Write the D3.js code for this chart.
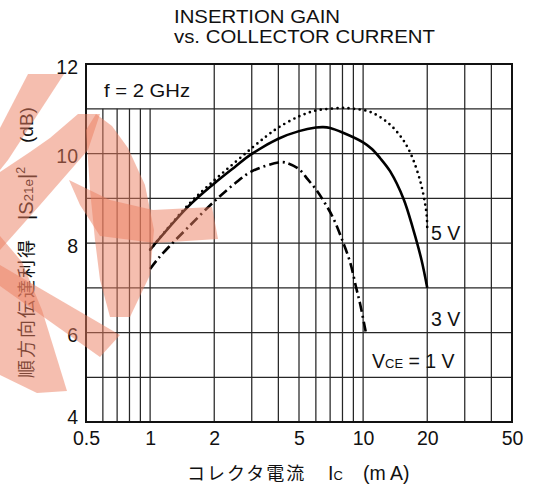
<!DOCTYPE html>
<html>
<head>
<meta charset="utf-8">
<script src="https://cdn.jsdelivr.net/npm/d3@7"></script>
<style>
  body { margin: 0; background: #fff; }
  svg text { font-family: "Liberation Sans", Arial, sans-serif; fill: #111; }
  .jp { font-family: "Noto Sans CJK JP", sans-serif; }
</style>
</head>
<body>
<div id="chart"></div>
<script>
// collector current (mA) and gain (dB)
var ic5V = [1.0, 1.5, 2, 2.5, 3, 3.5, 4, 5, 6, 7, 8, 9, 10.8, 12.9, 14.9, 16.6, 18.5, 19.5, 19.9, 20];
var gain5V = [7.85, 8.84, 9.4, 9.8, 10.12, 10.38, 10.58, 10.83, 10.96, 11.0, 11.02, 11.0, 10.93, 10.71, 10.4, 10.03, 9.4, 8.9, 8.6, 8.3];

var ic3V = [1.0, 1.5, 2, 2.5, 3, 4, 5, 6, 6.5, 7, 8, 10, 11, 12, 13.4, 15.5, 17.2, 18.8, 20];
var gain3V = [7.85, 8.8, 9.33, 9.7, 9.99, 10.33, 10.5, 10.58, 10.59, 10.57, 10.47, 10.25, 10.1, 9.9, 9.6, 8.98, 8.3, 7.62, 7.0];

var ic1V = [1.0, 1.09, 1.24, 1.5, 2, 2.5, 3, 4, 4.3, 5, 5.5, 6, 6.6, 7.25, 8.0, 8.7, 9.3, 9.7, 10.3];
var gain1V = [7.42, 7.65, 7.94, 8.34, 8.93, 9.33, 9.6, 9.8, 9.8, 9.65, 9.42, 9.2, 8.9, 8.55, 8.05, 7.56, 6.98, 6.62, 6.0];

var xTicks = [0.5, 1, 2, 5, 10, 20, 50];
var xGrid = [0.6, 0.7, 0.8, 0.9, 1, 2, 3, 4, 5, 6, 7, 8, 9, 10, 20, 30, 40];
var yTicks = [4, 6, 8, 10, 12];
var yGrid = [5, 6, 7, 8, 9, 10, 11];

var width = 541, height = 495;
var margin = { top: 64, right: 29, bottom: 73, left: 86 };

var x = d3.scaleLog().domain([0.5, 50]).range([margin.left, width - margin.right]);
var y = d3.scaleLinear().domain([4, 12]).range([height - margin.bottom, margin.top]);

var svg = d3.select("#chart").append("svg")
    .attr("width", width)
    .attr("height", height);

svg.append("rect").attr("width", width).attr("height", height).attr("fill", "#fff");

// grid (the box for the frequency note has no lines left of 2 mA)
var grid = svg.append("g").attr("stroke", "#262626").attr("stroke-width", 1.25);
grid.selectAll("line.v")
    .data(xGrid)
    .enter().append("line")
    .attr("class", "v")
    .attr("x1", function(d) { return x(d); })
    .attr("x2", function(d) { return x(d); })
    .attr("y1", function(d) { return d < 2 ? y(11) : y(12); })
    .attr("y2", y(4));
grid.selectAll("line.h")
    .data(yGrid)
    .enter().append("line")
    .attr("class", "h")
    .attr("x1", x(0.5))
    .attr("x2", x(50))
    .attr("y1", function(d) { return y(d); })
    .attr("y2", function(d) { return y(d); });

svg.append("rect")
    .attr("x", x(0.5))
    .attr("y", y(12))
    .attr("width", x(50) - x(0.5))
    .attr("height", y(4) - y(12))
    .attr("fill", "none")
    .attr("stroke", "#111")
    .attr("stroke-width", 2);

// axes (labels only)
var xAxis = d3.axisBottom(x).tickValues(xTicks).tickSize(0).tickPadding(9.5)
    .tickFormat(function(d) { return String(d); });
var yAxis = d3.axisLeft(y).tickValues(yTicks).tickSize(0).tickPadding(8)
    .tickFormat(d3.format("d"));

var gx = svg.append("g").attr("transform", "translate(0," + y(4) + ")").call(xAxis);
var gy = svg.append("g").attr("transform", "translate(" + x(0.5) + ",0)").call(yAxis);
gx.select(".domain").remove();
gy.select(".domain").remove();
gx.selectAll("text").attr("font-size", 19.5).attr("font-family", "Liberation Sans, Arial, sans-serif").attr("fill", "#111");
gy.selectAll("text").attr("font-size", 19.5).attr("font-family", "Liberation Sans, Arial, sans-serif").attr("fill", "#111")
    .attr("dy", function(d) { return d === 4 ? "0.08em" : "0.48em"; });

// curves
var line = d3.line()
    .x(function(d) { return x(d[0]); })
    .y(function(d) { return y(d[1]); })
    .curve(d3.curveCatmullRom.alpha(0.5));

function pairs(xs, ys) {
    return xs.map(function(v, i) { return [v, ys[i]]; });
}

svg.append("path")
    .datum(pairs(ic5V, gain5V))
    .attr("d", line)
    .attr("fill", "none")
    .attr("stroke", "#000")
    .attr("stroke-width", 2.7)
    .attr("stroke-linecap", "round")
    .attr("stroke-dasharray", "0,5.6");

svg.append("path")
    .datum(pairs(ic3V, gain3V))
    .attr("d", line)
    .attr("fill", "none")
    .attr("stroke", "#000")
    .attr("stroke-width", 2.6);

svg.append("path")
    .datum(pairs(ic1V, gain1V))
    .attr("d", line)
    .attr("fill", "none")
    .attr("stroke", "#000")
    .attr("stroke-width", 2.6)
    .attr("stroke-dasharray", "10,4,2,4");

// labels in the plot
svg.append("text").attr("x", 104).attr("y", 97).attr("font-size", 18)
    .attr("textLength", 86).attr("lengthAdjust", "spacingAndGlyphs").text("f = 2 GHz");
svg.append("text").attr("x", 431).attr("y", 240).attr("font-size", 19.5).text("5 V");
svg.append("text").attr("x", 431).attr("y", 326).attr("font-size", 19.5).text("3 V");
var vce = svg.append("text").attr("x", 372).attr("y", 368).attr("font-size", 19.5);
vce.append("tspan").text("V");
vce.append("tspan").attr("font-size", 13).text("CE");
vce.append("tspan").text(" = 1 V");

// title
svg.append("text").attr("x", 174).attr("y", 23.3).attr("font-size", 18.5)
    .attr("textLength", 166).attr("lengthAdjust", "spacingAndGlyphs").text("INSERTION GAIN");
svg.append("text").attr("x", 174).attr("y", 43).attr("font-size", 18.5)
    .attr("textLength", 261).attr("lengthAdjust", "spacingAndGlyphs").text("vs. COLLECTOR CURRENT");

// x axis title
var xt = svg.append("text").attr("y", 480).attr("font-size", 19.5);
xt.append("tspan").attr("class", "jp").attr("x", 187).attr("font-size", 18).attr("letter-spacing", 2).text("コレクタ電流");
xt.append("tspan").attr("x", 328).text("I");
xt.append("tspan").attr("font-size", 13).text("C");
xt.append("tspan").attr("x", 363).text("(m A)");

// y axis title, three pieces placed along the rotated baseline
svg.append("text")
    .attr("class", "jp")
    .attr("transform", "translate(32.5,378) rotate(-90)")
    .attr("font-size", 18)
    .attr("letter-spacing", 2)
    .text("順方向伝達利得");
var ys = svg.append("text")
    .attr("transform", "translate(33,220) rotate(-90)")
    .attr("font-size", 20);
ys.append("tspan").text("|S");
ys.append("tspan").attr("font-size", 13.5).text("21e");
ys.append("tspan").text("|");
ys.append("tspan").attr("font-size", 12.5).attr("dy", -8).text("2");
svg.append("text")
    .attr("transform", "translate(33,143) rotate(-90)")
    .attr("font-size", 19)
    .text("(dB)");

// red watermark over the left part of the chart
var markShapes = [
    [[28, 74], [64, 74], [8, 160], [0, 170], [0, 128]],
    [[78, 114], [100, 114], [88, 150], [40, 205], [0, 250], [0, 172], [30, 152], [50, 138]],
    [[96, 114], [112, 126], [128, 148], [145, 185], [154, 230], [150, 275], [130, 317], [110, 317], [100, 280], [95, 240], [90, 190], [86, 130]],
    [[69, 180], [110, 200], [153, 210], [212, 207], [218, 239], [155, 243], [100, 236], [80, 205]],
    [[0, 236], [22, 262], [42, 310], [67, 391], [37, 393], [0, 375]],
    [[0, 265], [120, 335], [100, 357], [0, 286]]
];
var markLine = d3.line().curve(d3.curveLinearClosed);
svg.append("g")
    .attr("fill", "rgb(235,125,95)")
    .attr("fill-opacity", 0.5)
    .selectAll("path")
    .data(markShapes)
    .enter().append("path")
    .attr("d", markLine);
</script>
</body>
</html>
